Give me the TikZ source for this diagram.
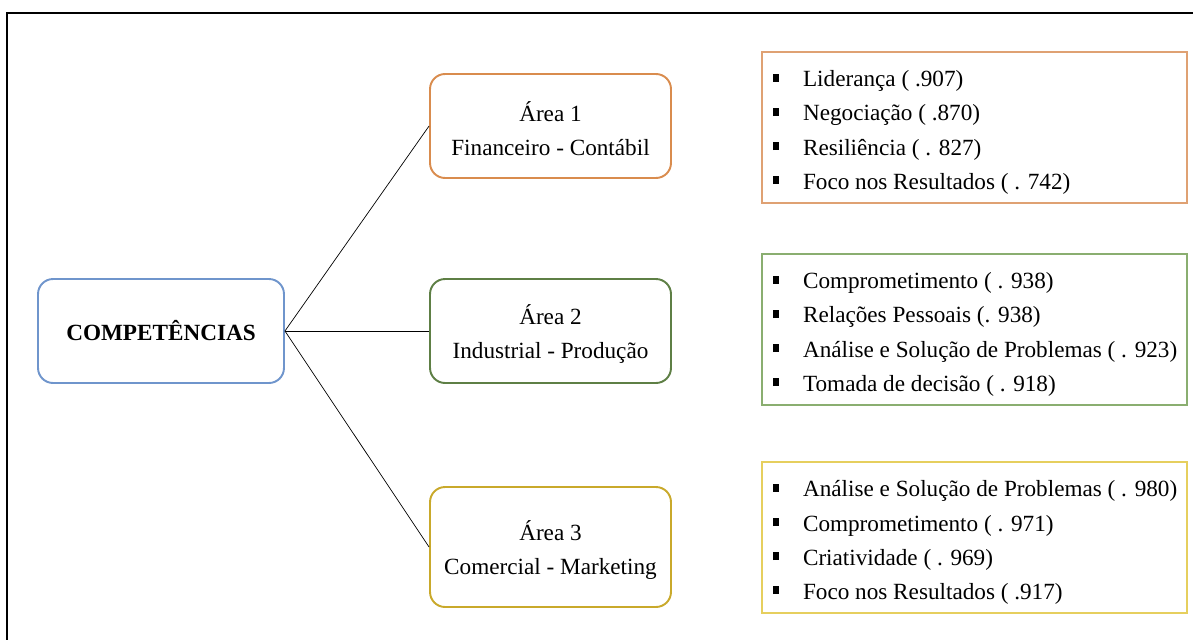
\documentclass[tikz,border=0pt]{standalone}
\usepackage{fontspec}
\setmainfont{Liberation Serif}
\usepackage{tikz}
\usetikzlibrary{positioning}
\definecolor{compblue}{HTML}{6F95CC}
\definecolor{areaorange}{HTML}{D98C4E}
\definecolor{areagreen}{HTML}{5E7F45}
\definecolor{areagold}{HTML}{C9A92B}
\definecolor{listorange}{HTML}{DFA173}
\definecolor{listgreen}{HTML}{8AAE70}
\definecolor{listgold}{HTML}{E6CF5E}
\newcommand{\compitem}[1]{\mbox{\makebox[0.6cm][l]{\rule[2.8pt]{3.4pt}{4.6pt}}#1}}
\newcommand{\liststrut}{\rule{0pt}{0.52cm}}
\newcommand{\areastrut}{\rule{0pt}{0.52cm}}

\begin{document}
\begin{tikzpicture}[x = 0.02cm, y = -0.02cm,
  every node/.style = {font = \fontsize{13.2}{19.4}\selectfont},
  rbox/.style = {draw, line width = 1.1pt, rounded corners = 0.3cm, align = center},
  areabox/.style = {rbox, minimum width = 4.82cm, minimum height = 2.08cm},
  listbox/.style = {draw, line width = 0.7pt, align = flush left, text width = 8.06cm,
    inner xsep = 0.22cm, minimum height = 3.02cm}]
\useasboundingbox (0, 0) rectangle (1193, 640);
\draw[line width = 0.8pt] (1193, 13) -- (7, 13) -- (7, 640);
\node[rbox, draw = compblue, minimum width = 4.92cm, minimum height = 2.08cm] (comp) at (161, 331) {\textbf{COMPETÊNCIAS}};
\node[areabox, draw = areaorange] (area1) at (550.5, 126) {\areastrut Área 1\\Financeiro - Contábil};
\node[areabox, draw = areagreen] (area2) at (550.5, 331) {\areastrut Área 2\\Industrial - Produção};
\node[areabox, draw = areagold, minimum height = 2.4cm] (area3) at (550.5, 547) {\areastrut Área 3\\Comercial - Marketing};
\node[listbox, draw = listorange] (list1) at (974.5, 127.5) {\liststrut\compitem{Liderança ( .907)}\\\compitem{Negociação ( .870)}\\\compitem{Resiliência ( . 827)}\\\compitem{Foco nos Resultados ( . 742)}};
\node[listbox, draw = listgreen] (list2) at (974.5, 329.5) {\liststrut\compitem{Comprometimento ( . 938)}\\\compitem{Relações Pessoais (. 938)}\\\compitem{Análise e Solução de Problemas ( . 923)}\\\compitem{Tomada de decisão ( . 918)}};
\node[listbox, draw = listgold] (list3) at (974.5, 537.5) {\liststrut\compitem{Análise e Solução de Problemas ( . 980)}\\\compitem{Comprometimento ( . 971)}\\\compitem{Criatividade ( . 969)}\\\compitem{Foco nos Resultados ( .917)}};
\draw (comp.east) -- (area1.west);
\draw (comp.east) -- (area2.west);
\draw (comp.east) -- (area3.west);
\end{tikzpicture}
\end{document}
